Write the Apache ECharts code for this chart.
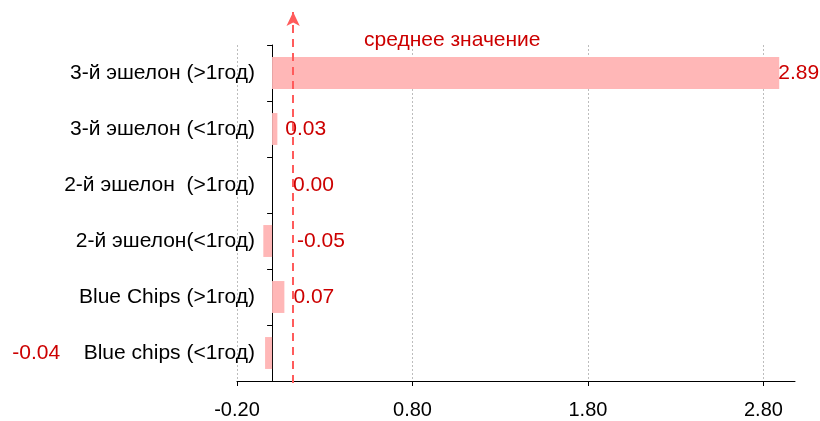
<!DOCTYPE html>
<html>
<head>
<meta charset="utf-8">
<script src="https://cdn.jsdelivr.net/npm/echarts@6/dist/echarts.min.js"></script>
<style>
  html, body { margin: 0; padding: 0; background: #fff; }
  #main { width: 820px; height: 421px; }
</style>
</head>
<body>
<div id="main"></div>
<script>
// данные
var categories = ['Blue chips (<1год)', 'Blue Chips (>1год)', '2-й эшелон(<1год)', '2-й эшелон  (>1год)', '3-й эшелон (<1год)', '3-й эшелон (>1год)'];
var values = [-0.04, 0.07, -0.05, 0.00, 0.03, 2.89];
var meanValue = 0.12;
var meanTitle = 'среднее значение';
var xTicks = [-0.2, 0.8, 1.8, 2.8];

// сдвиг подписей (как в исходнике из Excel)
var labelNudge = [
    { position: 'left', distance: 205 },
    { position: 'right', distance: 9 },
    { position: 'right', distance: 25 },
    { position: 'right', distance: 21 },
    { position: 'right', distance: 8 },
    { position: 'right', distance: -1 }
];

var font = 'Liberation Sans, Arial, sans-serif';
var xMin = -0.2, xMax = 2.98;

var myChart = echarts.init(document.getElementById('main'));

var option = {
    animation: false,
    title: {
        text: meanTitle,
        left: 359,
        top: 25,
        textStyle: { color: '#cc0000', fontSize: 21, fontWeight: 'normal', fontFamily: font }
    },
    grid: [
        { left: 237, right: 25, top: 45, bottom: 40 },
        { left: 237, right: 25, top: 12, bottom: 38 }
    ],
    xAxis: [{
        type: 'value',
        gridIndex: 0,
        min: xMin,
        max: xMax,
        interval: 1,
        axisLine: { show: true, lineStyle: { color: '#000', width: 1 } },
        axisTick: { show: true, length: 5, lineStyle: { color: '#000' } },
        axisLabel: {
            margin: 19,
            color: '#000',
            fontSize: 20,
            fontFamily: font,
            showMaxLabel: false,
            formatter: function (v) {
                for (var i = 0; i < xTicks.length; i++) {
                    if (Math.abs(v - xTicks[i]) < 1e-6) return v.toFixed(2);
                }
                return '';
            }
        },
        splitLine: { show: true, showMaxLine: false, lineStyle: { color: '#bdbdbd', type: [2, 2] } }
    }, {
        type: 'value',
        gridIndex: 1,
        min: xMin,
        max: xMax,
        show: false
    }],
    yAxis: [{
        type: 'category',
        gridIndex: 0,
        data: categories,
        axisLine: { show: true, onZero: true, lineStyle: { color: '#000' } },
        axisTick: { show: true, length: 5, lineStyle: { color: '#000' } },
        axisLabel: { margin: -18, color: '#000', fontSize: 21, fontFamily: font },
        splitLine: { show: false }
    }, {
        type: 'value',
        gridIndex: 1,
        min: 0,
        max: 1,
        show: false
    }],
    series: [{
        type: 'bar',
        xAxisIndex: 0,
        yAxisIndex: 0,
        barWidth: '57%',
        itemStyle: { color: '#ffb7b7' },
        data: values.map(function (v, i) {
            return {
                value: v,
                label: {
                    show: true,
                    position: labelNudge[i].position,
                    distance: labelNudge[i].distance,
                    color: '#cc0000',
                    fontSize: 21,
                    fontFamily: font,
                    formatter: function (p) { return p.value.toFixed(2); }
                }
            };
        })
    }, {
        // вертикальная линия среднего значения со стрелкой
        type: 'line',
        xAxisIndex: 1,
        yAxisIndex: 1,
        data: [],
        markLine: {
            silent: true,
            symbol: ['none', 'arrow'],
            symbolSize: [10, 14],
            label: { show: false },
            lineStyle: { color: '#ff5b5b', type: [8, 6], width: 2 },
            data: [[{ coord: [meanValue, 0] }, { coord: [meanValue, 1] }]]
        }
    }]
};

myChart.setOption(option);
</script>
</body>
</html>
